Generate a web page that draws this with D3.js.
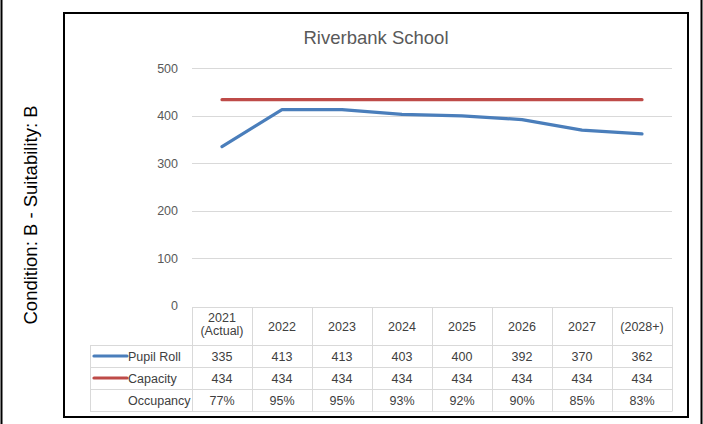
<!DOCTYPE html>
<html>
<head>
<meta charset="utf-8">
<script src="https://cdn.jsdelivr.net/npm/d3@7"></script>
<style>
  html, body { margin: 0; padding: 0; background: #fff; }
  svg { display: block; font-family: "Liberation Sans", Arial, sans-serif; }
</style>
</head>
<body>
<svg id="chart" width="703" height="424"></svg>
<script>
// Riverbank School – pupil roll vs capacity with data table
const years = ["2021\n(Actual)", "2022", "2023", "2024", "2025", "2026", "2027", "(2028+)"];
const pupilRoll = [335, 413, 413, 403, 400, 392, 370, 362];
const capacity = [434, 434, 434, 434, 434, 434, 434, 434];
const occupancy = ["77%", "95%", "95%", "93%", "92%", "90%", "85%", "83%"];
const yTicks = [0, 100, 200, 300, 400, 500];

const title = "Riverbank School";
const sideLabel = "Condition: B - Suitability: B";

const series = [
  { name: "Pupil Roll", values: pupilRoll, color: "#4a7ebb" },
  { name: "Capacity", values: capacity, color: "#be4b48" }
];

const svg = d3.select("#chart");

// outer page rules
svg.append("line").attr("x1", 1.5).attr("x2", 1.5).attr("y1", 0).attr("y2", 424)
  .attr("stroke", "#000").attr("stroke-width", 2);
svg.append("line").attr("x1", 701.5).attr("x2", 701.5).attr("y1", 0).attr("y2", 424)
  .attr("stroke", "#000").attr("stroke-width", 2);

// chart frame
svg.append("rect").attr("x", 64).attr("y", 13).attr("width", 624).attr("height", 404)
  .attr("fill", "#fff").attr("stroke", "#000").attr("stroke-width", 2);

// rotated side label
svg.append("text")
  .attr("transform", "translate(37,215) rotate(-90)")
  .attr("text-anchor", "middle")
  .attr("font-size", 18.5)
  .attr("fill", "#000")
  .text(sideLabel);

// title
svg.append("text")
  .attr("x", 376).attr("y", 44)
  .attr("text-anchor", "middle")
  .attr("font-size", 18.5)
  .attr("fill", "#595959")
  .text(title);

const plotLeft = 192, plotRight = 672, plotTop = 68.3, plotBottom = 305.8;

const x = d3.scaleBand().domain(d3.range(years.length)).range([plotLeft, plotRight]).padding(0);
const y = d3.scaleLinear().domain([0, 500]).range([plotBottom, plotTop]);

// gridlines
svg.append("g").selectAll("line").data(yTicks.filter(d => d > 0)).join("line")
  .attr("x1", plotLeft).attr("x2", plotRight)
  .attr("y1", d => Math.round(y(d)) + 0.5).attr("y2", d => Math.round(y(d)) + 0.5)
  .attr("stroke", "#d9d9d9").attr("stroke-width", 1);

// y axis labels
const yAxis = d3.axisLeft(y).tickValues(yTicks).tickSize(0).tickPadding(0);
const yg = svg.append("g").attr("transform", `translate(178,0)`).call(yAxis);
yg.select(".domain").remove();
yg.selectAll("text").attr("font-size", 12.5).attr("fill", "#595959")
  .attr("font-family", "Liberation Sans, Arial, sans-serif");

// series lines
const line = d3.line()
  .x((d, i) => x(i) + x.bandwidth() / 2)
  .y(d => y(d));

svg.append("g").selectAll("path").data(series.slice().reverse()).join("path")
  .attr("d", d => line(d.values))
  .attr("fill", "none")
  .attr("stroke", d => d.color)
  .attr("stroke-width", 3.2)
  .attr("stroke-linejoin", "round")
  .attr("stroke-linecap", "round");

// data table
const tableTop = 307, headerBottom = 345;
const rowH = [345, 367, 389, 411];
const labelLeft = 90;
const gridColor = "#d9d9d9";
const tg = svg.append("g");

// horizontal rules
tg.append("line").attr("x1", plotLeft).attr("x2", plotRight)
  .attr("y1", tableTop + 0.5).attr("y2", tableTop + 0.5).attr("stroke", gridColor);
rowH.forEach(yy => {
  tg.append("line").attr("x1", labelLeft).attr("x2", plotRight)
    .attr("y1", yy + 0.5).attr("y2", yy + 0.5).attr("stroke", gridColor);
});
// vertical rules
tg.append("line").attr("x1", labelLeft + 0.5).attr("x2", labelLeft + 0.5)
  .attr("y1", headerBottom).attr("y2", rowH[3] + 0.5).attr("stroke", gridColor);
d3.range(years.length + 1).forEach(i => {
  const xx = i < years.length ? x(i) : plotRight;
  tg.append("line").attr("x1", xx + 0.5).attr("x2", xx + 0.5)
    .attr("y1", tableTop).attr("y2", rowH[3] + 0.5).attr("stroke", gridColor);
});

const textColor = "#404040";
const fs = 12.5;
// header cells
years.forEach((label, i) => {
  const parts = label.split("\n");
  const cx = x(i) + x.bandwidth() / 2;
  const t = tg.append("text").attr("text-anchor", "middle")
    .attr("font-size", fs).attr("fill", textColor);
  if (parts.length === 1) {
    t.append("tspan").attr("x", cx).attr("y", 331).text(parts[0]);
  } else {
    t.append("tspan").attr("x", cx).attr("y", 321.5).text(parts[0]);
    t.append("tspan").attr("x", cx).attr("y", 335).text(parts[1]);
  }
});

// body rows
const rows = [
  { name: "Pupil Roll", cells: pupilRoll, color: series[0].color },
  { name: "Capacity", cells: capacity, color: series[1].color },
  { name: "Occupancy", cells: occupancy, color: null }
];
rows.forEach((r, ri) => {
  const cy = (rowH[ri] + rowH[ri + 1]) / 2;
  if (r.color) {
    tg.append("line").attr("x1", 94).attr("x2", 127)
      .attr("y1", cy).attr("y2", cy)
      .attr("stroke", r.color).attr("stroke-width", 3.2)
      .attr("stroke-linecap", "round");
  }
  tg.append("text").attr("x", 128).attr("y", cy + 4.5)
    .attr("font-size", fs).attr("fill", textColor).text(r.name);
  r.cells.forEach((v, i) => {
    tg.append("text").attr("x", x(i) + x.bandwidth() / 2).attr("y", cy + 4.5)
      .attr("text-anchor", "middle").attr("font-size", fs).attr("fill", textColor)
      .text(v);
  });
});
</script>
</body>
</html>
